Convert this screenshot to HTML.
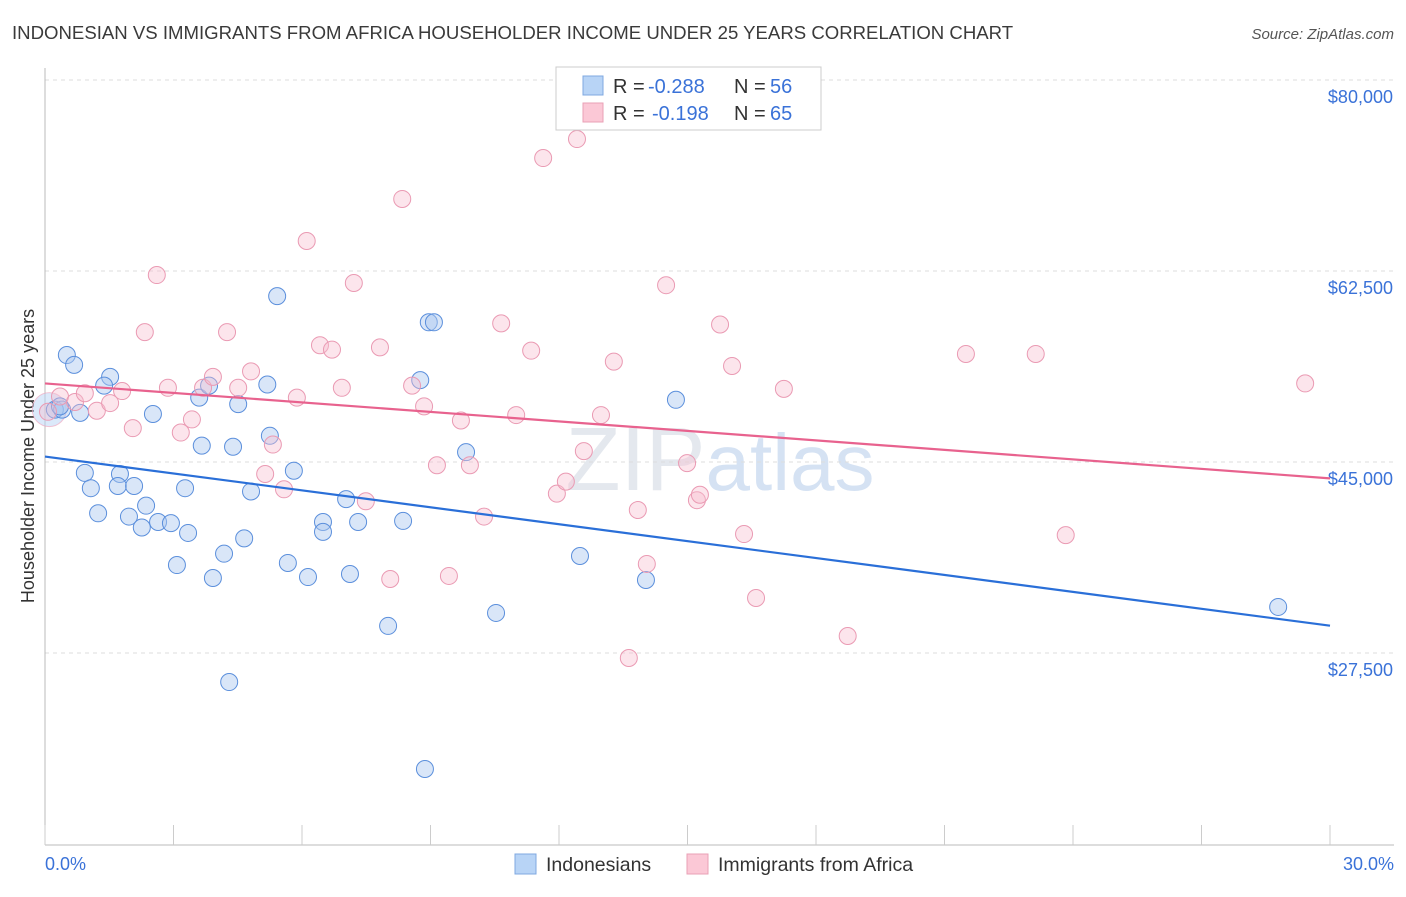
<!DOCTYPE html>
<html><head><meta charset="utf-8">
<style>
body{margin:0;background:#fff;font-family:"Liberation Sans",sans-serif;}
svg text{font-family:"Liberation Sans",sans-serif;}
</style></head>
<body>
<svg id="chart" width="1406" height="892" viewBox="0 0 1406 892" xmlns="http://www.w3.org/2000/svg">
<text x="12" y="39" font-size="18.6" fill="#3a3a3a">INDONESIAN VS IMMIGRANTS FROM AFRICA HOUSEHOLDER INCOME UNDER 25 YEARS CORRELATION CHART</text>
<text x="1394" y="39" font-size="15" fill="#555" text-anchor="end" font-style="italic">Source: ZipAtlas.com</text>
<text transform="translate(34,456) rotate(-90)" font-size="18" fill="#333" text-anchor="middle">Householder Income Under 25 years</text>
<text x="720" y="490" font-size="90" fill="#e4e8ee" text-anchor="middle" font-family="Liberation Serif">ZIP<tspan fill="#d5e2f3" font-family="Liberation Sans" font-size="80">atlas</tspan></text>
<g id="grid"></g>
<g id="axes"></g>
<g id="pts"></g>
<g id="lines"></g>
<g>
<rect x="556" y="67" width="265" height="63" fill="#fff" stroke="#ccc"/>
<rect x="583" y="76" width="20" height="19" fill="#b8d4f6" stroke="#7fa8e0"/>
<text x="613" y="93" font-size="20" fill="#333">R = </text>
<text x="648" y="93" font-size="20" fill="#3a72d8">-0.288</text>
<text x="734" y="93" font-size="20" fill="#333">N = </text>
<text x="770" y="93" font-size="20" fill="#3a72d8">56</text>
<rect x="583" y="103" width="20" height="19" fill="#fbc8d6" stroke="#eaa0b6"/>
<text x="613" y="120" font-size="20" fill="#333">R = </text>
<text x="652" y="120" font-size="20" fill="#3a72d8">-0.198</text>
<text x="734" y="120" font-size="20" fill="#333">N = </text>
<text x="770" y="120" font-size="20" fill="#3a72d8">65</text>
</g>
<g>
<rect x="515" y="854" width="21" height="20" fill="#b8d4f6" stroke="#7fa8e0"/>
<text x="546" y="871" font-size="19.5" fill="#333">Indonesians</text>
<rect x="687" y="854" width="21" height="20" fill="#fbc8d6" stroke="#eaa0b6"/>
<text x="718" y="871" font-size="19.5" fill="#333">Immigrants from Africa</text>
</g>
<text x="45" y="870" font-size="18" fill="#3a72d8">0.0%</text>
<text x="1394" y="870" font-size="18" fill="#3a72d8" text-anchor="end">30.0%</text>
</svg>
<script>
const yTicks=[80000,62500,45000,27500];
const yTickLabels=["$80,000","$62,500","$45,000","$27,500"];
const xTicks=[0,3,6,9,12,15,18,21,24,27,30];
const blueX=[0.51,0.68,0.23,0.40,0.82,1.52,1.38,2.52,3.60,3.83,4.51,5.19,5.42,0.93,1.07,1.24,1.75,1.70,2.08,1.96,2.36,2.26,2.64,2.94,3.08,3.27,3.34,3.66,3.92,4.18,4.39,4.65,4.81,4.30,5.25,5.67,5.81,6.14,6.49,6.49,7.03,7.12,7.31,8.01,8.36,8.76,8.96,9.08,9.83,10.53,8.87,12.49,14.03,14.73,28.79,0.35];
const blueY=[54800,53900,49800,49800,49500,52800,52000,49400,50900,52000,50300,52100,60200,44000,42600,40300,43900,42800,42800,40000,41000,39000,39500,39400,35560,42600,38500,46500,34370,36600,46400,38000,42300,24840,47400,35750,44200,34460,39500,38600,41600,34740,39500,29980,39600,52500,57800,57800,45900,31170,16870,36390,34190,50700,31720,50100];
const pinkX=[0.07,0.35,0.70,1.21,1.52,1.80,2.05,2.33,2.61,2.87,3.17,3.43,3.69,3.92,4.25,4.51,4.81,5.14,5.32,5.58,5.88,6.11,6.42,6.70,6.93,7.21,7.49,7.82,8.06,8.34,8.57,8.85,9.15,9.43,9.71,9.92,10.25,10.65,11.00,11.35,11.63,11.95,12.16,12.42,12.58,12.98,13.28,13.63,13.84,14.05,14.50,14.99,15.22,15.29,15.76,16.04,16.32,16.60,17.25,18.74,21.50,23.13,23.83,29.42,0.93];
const pinkY=[49600,51000,50500,49700,50400,51500,48100,56900,62130,51800,47700,48900,51800,52800,56900,51800,53300,43900,46600,42500,50900,65250,55700,55300,51800,61400,41400,55500,34280,69100,52000,50100,44700,34560,48800,44700,40000,57700,49300,55200,72850,42100,43200,74590,46000,49300,54200,27040,40600,35660,61200,44900,41500,42000,57600,53800,38400,32540,51700,29060,54900,54900,38300,52200,51300];
const blueFit=[0,45500,30,30000];
const pinkFit=[0,52200,30,43500];
const X=v=>45+v/30*1285;
const Y=v=>80+(80000-v)/17500*191;
const NS="http://www.w3.org/2000/svg";
function mk(parent,tag,attrs){const e=document.createElementNS(NS,tag);for(const k in attrs)e.setAttribute(k,attrs[k]);document.getElementById(parent).appendChild(e);return e;}
yTicks.forEach((t,i)=>{
 const g=mk('grid','line',{x1:45,x2:1394,y1:Y(t),y2:Y(t),stroke:'#ddd','stroke-dasharray':'4,4'});
 
 
 const l=mk('grid','text',{x:1393,y:Y(t)+23,'font-size':18,fill:'#3a72d8','text-anchor':'end'});
 l.textContent=yTickLabels[i];
 
 
});
const ax=mk('axes','line',{x1:45,x2:45,y1:68,y2:845,stroke:'#bbb'});


const bx=mk('axes','line',{x1:45,x2:1394,y1:845,y2:845,stroke:'#bbb'});


xTicks.forEach(t=>{
 const tk=mk('axes','line',{x1:X(t),x2:X(t),y1:825,y2:845,stroke:'#ccc'});
 
 
});
const big=mk('pts','circle',{cx:X(0.1),cy:Y(49800),r:17,fill:'rgba(184,212,246,0.5)',stroke:'rgba(240,160,185,0.6)'});


blueX.forEach((x,i)=>{
 const c=mk('pts','circle',{cx:X(x),cy:Y(blueY[i]),r:8.5,fill:'rgba(170,200,240,0.45)',stroke:'#5b8fdc','stroke-width':1});
 
 
});
pinkX.forEach((x,i)=>{
 const c=mk('pts','circle',{cx:X(x),cy:Y(pinkY[i]),r:8.5,fill:'rgba(248,190,208,0.4)',stroke:'#ea9ab3','stroke-width':1});
 
 
});
const bl=mk('lines','line',{x1:X(blueFit[0]),y1:Y(blueFit[1]),x2:X(blueFit[2]),y2:Y(blueFit[3]),stroke:'#2a6fd8','stroke-width':2.2});


const pl=mk('lines','line',{x1:X(pinkFit[0]),y1:Y(pinkFit[1]),x2:X(pinkFit[2]),y2:Y(pinkFit[3]),stroke:'#e8628e','stroke-width':2.2});


</script>
</body></html>
